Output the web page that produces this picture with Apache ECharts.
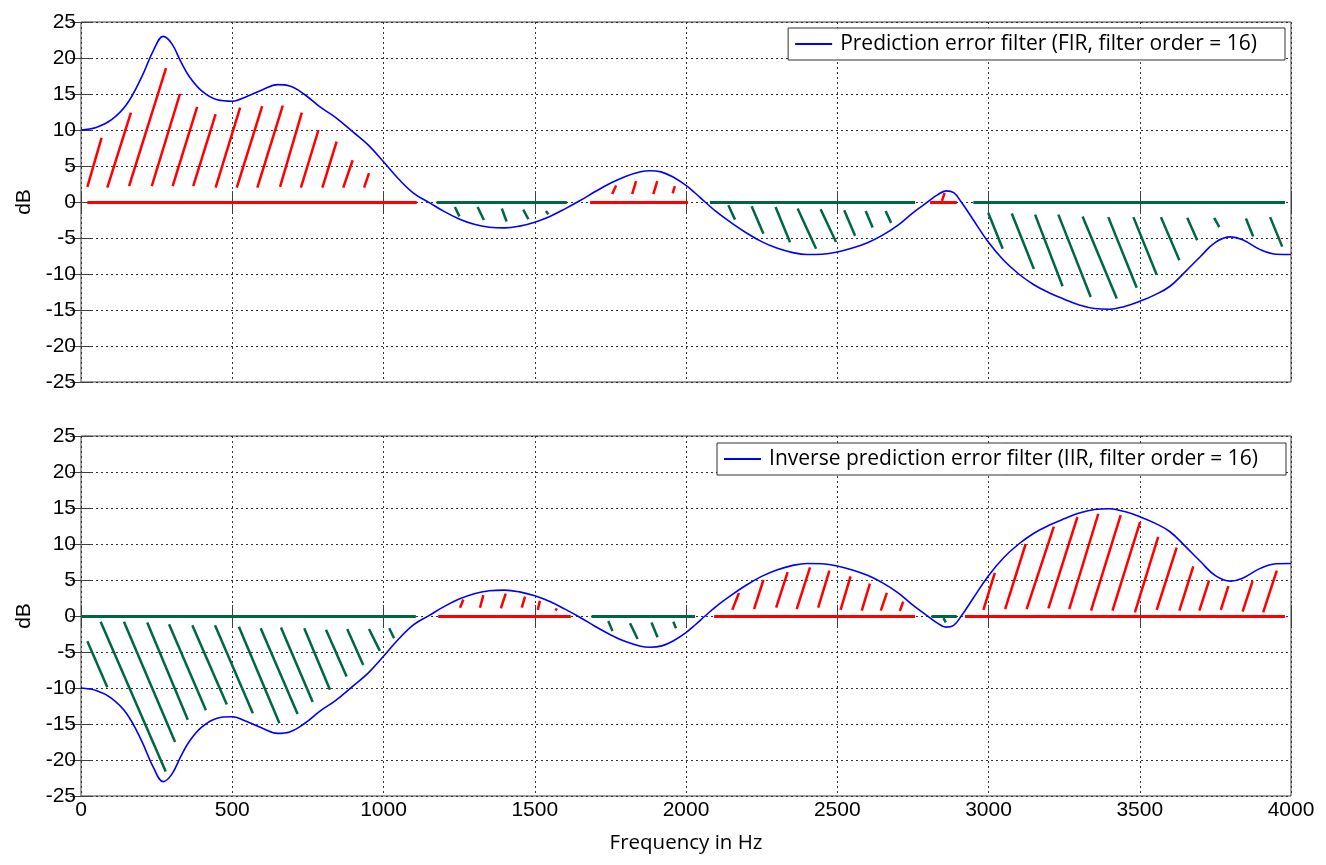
<!DOCTYPE html>
<html lang="en">
<head>
    <meta charset="UTF-8">
    <title>Prediction error filter vs inverse filter</title>
    <script src="https://cdn.jsdelivr.net/npm/echarts@6.0.0/dist/echarts.min.js"></script>
    <style>
        html, body { margin: 0; padding: 0; background: #fff; }
        #chart { width: 1326px; height: 865px; }
    </style>
</head>
<body>
    <div id="chart"></div>

    <script>
        // magnitude responses, [Hz, dB]
        const firCurve = [
            [0, 10.0], [50, 10.35], [100, 11.4], [150, 13.5], [200, 17.3], [240, 21.1], [272, 23.0],
            [300, 22.0], [330, 19.5], [360, 17.3], [400, 15.4], [450, 14.2], [500, 14.0], [550, 14.7],
            [600, 15.6], [650, 16.3], [690, 16.1], [740, 14.9], [790, 13.2], [840, 11.8], [900, 9.7],
            [950, 7.9], [1000, 5.6], [1050, 3.2], [1100, 1.2], [1150, -0.05], [1200, -1.3], [1250, -2.35],
            [1300, -3.1], [1350, -3.5], [1400, -3.6], [1450, -3.35], [1500, -2.8], [1550, -2.0],
            [1600, -0.95], [1650, 0.2], [1700, 1.45], [1750, 2.6], [1800, 3.55], [1850, 4.2], [1880, 4.35],
            [1920, 4.15], [1960, 3.4], [2000, 2.3], [2030, 1.25], [2063, 0], [2100, -1.35], [2150, -2.9],
            [2200, -4.3], [2250, -5.5], [2300, -6.4], [2350, -7.0], [2400, -7.3], [2450, -7.25],
            [2500, -6.95], [2550, -6.4], [2600, -5.65], [2650, -4.6], [2700, -3.25], [2750, -1.5],
            [2800, 0.05], [2830, 0.95], [2860, 1.55], [2885, 1.3], [2910, 0], [2950, -2.5], [3000, -5.6],
            [3050, -8.1], [3100, -10.0], [3150, -11.5], [3200, -12.6], [3250, -13.5], [3300, -14.3],
            [3350, -14.8], [3400, -14.9], [3450, -14.5], [3500, -13.8], [3550, -12.9], [3600, -11.7],
            [3650, -9.7], [3700, -7.6], [3750, -5.6], [3800, -4.85], [3840, -5.25], [3900, -6.65],
            [3950, -7.25], [4000, -7.3]
        ];

        const iirCurve = [
            [0, -10.0], [50, -10.35], [100, -11.4], [150, -13.5], [200, -17.3], [240, -21.1], [272, -23.0],
            [300, -22.0], [330, -19.5], [360, -17.3], [400, -15.4], [450, -14.2], [500, -14.0], [550, -14.7],
            [600, -15.6], [650, -16.3], [690, -16.1], [740, -14.9], [790, -13.2], [840, -11.8], [900, -9.7],
            [950, -7.9], [1000, -5.6], [1050, -3.2], [1100, -1.2], [1150, 0.05], [1200, 1.3], [1250, 2.35],
            [1300, 3.1], [1350, 3.5], [1400, 3.6], [1450, 3.35], [1500, 2.8], [1550, 2.0],
            [1600, 0.95], [1650, -0.2], [1700, -1.45], [1750, -2.6], [1800, -3.55], [1850, -4.2], [1880, -4.35],
            [1920, -4.15], [1960, -3.4], [2000, -2.3], [2030, -1.25], [2063, 0], [2100, 1.35], [2150, 2.9],
            [2200, 4.3], [2250, 5.5], [2300, 6.4], [2350, 7.0], [2400, 7.3], [2450, 7.25],
            [2500, 6.95], [2550, 6.4], [2600, 5.65], [2650, 4.6], [2700, 3.25], [2750, 1.5],
            [2800, -0.05], [2830, -0.95], [2860, -1.55], [2885, -1.3], [2910, 0], [2950, 2.5], [3000, 5.6],
            [3050, 8.1], [3100, 10.0], [3150, 11.5], [3200, 12.6], [3250, 13.5], [3300, 14.3],
            [3350, 14.8], [3400, 14.9], [3450, 14.5], [3500, 13.8], [3550, 12.9], [3600, 11.7],
            [3650, 9.7], [3700, 7.6], [3750, 5.6], [3800, 4.85], [3840, 5.25], [3900, 6.65],
            [3950, 7.25], [4000, 7.3]
        ];

        // hatch strokes, [x1, y1, x2, y2] in Hz / dB
        const firRedHatch = [
            [21, 2.1, 68, 8.9], [87, 2.0, 165, 12.4], [159, 2.2, 281, 18.6], [234, 2.2, 327, 15.0],
            [303, 2.2, 384, 13.2], [371, 2.2, 445, 12.2], [445, 2.0, 526, 13.1], [515, 2.0, 599, 13.3],
            [583, 2.0, 667, 13.4], [658, 2.1, 730, 12.4], [727, 2.0, 785, 10.0], [798, 2.0, 845, 8.4],
            [867, 2.0, 898, 5.8], [936, 2.0, 952, 4.0],
            [1756, 1.1, 1769, 2.3], [1822, 1.1, 1835, 2.9], [1892, 1.1, 1905, 2.9], [1956, 1.2, 1963, 2.2],
            [2846, 0.15, 2855, 1.25]
        ];
        const firGreenHatch = [
            [1236, -0.7, 1251, -2.0], [1311, -0.7, 1332, -2.5], [1391, -0.9, 1407, -2.7],
            [1462, -1.05, 1479, -2.4], [1537, -1.25, 1545, -1.7],
            [2140, -0.45, 2162, -2.45], [2217, -0.6, 2256, -4.4], [2296, -0.7, 2344, -5.6],
            [2369, -0.9, 2430, -6.5], [2445, -1.0, 2496, -5.55], [2523, -1.15, 2559, -4.7],
            [2594, -1.25, 2617, -3.55], [2660, -1.25, 2678, -2.9],
            [2999, -1.5, 3047, -6.5], [3077, -1.6, 3150, -9.3], [3154, -1.75, 3245, -11.7],
            [3231, -1.75, 3338, -13.2], [3311, -2.0, 3424, -13.4], [3396, -2.1, 3490, -11.9],
            [3479, -2.1, 3556, -10.1], [3570, -2.1, 3631, -8.1], [3657, -2.2, 3690, -5.3],
            [3746, -2.2, 3763, -3.5], [3851, -2.3, 3875, -4.8], [3931, -2.1, 3971, -6.2]
        ];
        const iirGreenHatch = [
            [21, -3.5, 87, -9.9], [65, -0.8, 280, -21.6], [142, -0.8, 311, -17.5], [219, -0.9, 353, -14.4],
            [291, -1.15, 413, -13.1], [368, -1.3, 482, -12.3], [443, -1.3, 568, -13.5], [522, -1.5, 656, -14.9],
            [594, -1.7, 716, -13.6], [661, -1.6, 766, -11.95], [738, -1.7, 823, -10.25], [810, -1.9, 878, -8.4],
            [880, -1.8, 933, -6.8], [952, -1.8, 988, -4.85], [1019, -1.7, 1035, -3.1],
            [1743, -0.7, 1757, -2.1], [1815, -1.0, 1840, -3.2], [1886, -0.9, 1906, -2.95], [1958, -0.8, 1967, -1.7],
            [2851, -0.3, 2859, -0.9]
        ];
        const iirRedHatch = [
            [1253, 1.15, 1264, 2.3], [1319, 1.15, 1330, 2.9], [1388, 1.05, 1404, 3.1], [1457, 1.15, 1468, 2.7],
            [1510, 0.85, 1517, 2.1], [1569, 0.75, 1573, 1.05],
            [2153, 0.85, 2175, 3.2], [2225, 0.95, 2256, 5.0], [2298, 1.15, 2336, 6.1], [2366, 0.95, 2410, 6.75],
            [2437, 1.15, 2474, 6.3], [2511, 0.85, 2544, 5.5], [2581, 0.75, 2608, 4.5], [2644, 0.75, 2664, 3.2],
            [2707, 0.7, 2718, 2.0],
            [2983, 0.85, 3021, 6.0], [3055, 0.95, 3123, 10.0], [3126, 0.95, 3216, 12.4], [3198, 1.05, 3294, 13.75],
            [3267, 0.95, 3363, 14.2], [3339, 0.75, 3437, 14.0], [3410, 0.75, 3501, 13.05], [3484, 0.5, 3561, 11.0],
            [3556, 0.85, 3622, 9.5], [3631, 0.75, 3677, 6.9], [3697, 0.75, 3729, 4.9], [3768, 0.85, 3793, 4.15],
            [3840, 0.6, 3873, 4.85], [3908, 0.5, 3953, 6.3]
        ];

        // 0 dB baseline pieces, [from Hz, to Hz]
        const firRedBase = [[21, 1110], [1683, 2007], [2807, 2895]];
        const firGreenBase = [[1176, 1606], [2079, 2757], [2950, 3980]];
        const iirGreenBase = [[0, 1107], [1688, 2030], [2812, 2895]];
        const iirRedBase = [[1181, 1619], [2093, 2757], [2922, 3980]];

        const firName = 'Prediction error filter (FIR, filter order = 16)';
        const iirName = 'Inverse prediction error filter (IIR, filter order = 16)';

        const RED = '#ff0000';
        const GREEN = '#006645';
        const BLUE = '#0000ff';
        const AXIS = '#404040';
        const TICK_FONT = 'Liberation Sans, Arial, sans-serif';
        const TEXT_FONT = 'Open Sans, sans-serif';

        function hatchSeries(segs, color, ax) {
            return {
                type: 'lines', coordinateSystem: 'cartesian2d',
                xAxisIndex: ax, yAxisIndex: ax, z: 2, silent: true,
                lineStyle: { color: color, width: 2.5, opacity: 1, curveness: 0 },
                data: segs.map(s => ({ coords: [[s[0], s[1]], [s[2], s[3]]] }))
            };
        }

        function baseSeries(parts, color, ax) {
            return {
                type: 'lines', coordinateSystem: 'cartesian2d',
                xAxisIndex: ax, yAxisIndex: ax, z: 2, silent: true,
                lineStyle: { color: color, width: 3, opacity: 1, curveness: 0 },
                data: parts.map(p => ({ coords: [[p[0], 0], [p[1], 0]] }))
            };
        }

        function curveSeries(name, data, ax) {
            return {
                name: name, type: 'line', xAxisIndex: ax, yAxisIndex: ax, z: 3,
                data: data, showSymbol: false, symbol: 'none',
                smooth: 0.4,
                lineStyle: { color: BLUE, width: 1.6 }, itemStyle: { color: BLUE }
            };
        }

        function mainX(gridIndex, withLabels) {
            return {
                type: 'value', gridIndex: gridIndex, min: 0, max: 4000, interval: 500,
                axisLine: { show: false },
                axisTick: { show: true, inside: true, length: 11, lineStyle: { color: AXIS } },
                axisLabel: {
                    show: withLabels, margin: 4, color: '#000', fontFamily: TICK_FONT, fontSize: 21,
                    showMinLabel: true, showMaxLabel: true,
                    formatter: v => String(v)
                },
                splitLine: { show: true, lineStyle: { color: '#333', type: [2, 3], width: 1 } }
            };
        }

        function sideX(gridIndex) {
            return {
                type: 'value', gridIndex: gridIndex, position: 'top', min: 0, max: 4000, interval: 500,
                axisLine: { show: false },
                axisTick: { show: true, inside: true, length: 11, lineStyle: { color: AXIS } },
                axisLabel: { show: false }, splitLine: { show: false }
            };
        }

        function mainY(gridIndex) {
            return {
                type: 'value', gridIndex: gridIndex, min: -25, max: 25, interval: 5,
                name: 'dB', nameLocation: 'middle', nameRotate: 90, nameGap: 46,
                nameTextStyle: { color: '#000', fontFamily: TICK_FONT, fontSize: 21 },
                axisLine: { show: false },
                axisTick: { show: true, inside: true, length: 11, lineStyle: { color: AXIS } },
                axisLabel: {
                    margin: 5, color: '#000', fontFamily: TICK_FONT, fontSize: 21,
                    showMinLabel: true, showMaxLabel: true,
                    formatter: v => String(v)
                },
                splitLine: { show: true, lineStyle: { color: '#333', type: [2, 3], width: 1 } }
            };
        }

        function sideY(gridIndex) {
            return {
                type: 'value', gridIndex: gridIndex, position: 'right', min: -25, max: 25, interval: 5,
                axisLine: { show: false },
                axisTick: { show: true, inside: true, length: 11, lineStyle: { color: AXIS } },
                axisLabel: { show: false }, splitLine: { show: false }
            };
        }

        function legendBox(name, right, top) {
            return {
                data: [name], right: right, top: top, orient: 'horizontal',
                icon: 'rect', itemWidth: 37, itemHeight: 2,
                padding: [3, 28, 3, 7],
                backgroundColor: '#fff', borderColor: '#333', borderWidth: 1, borderRadius: 0,
                selectedMode: false,
                textStyle: {
                    color: '#000', fontFamily: TEXT_FONT, fontSize: 21, lineHeight: 26,
                    padding: [0, 0, 0, 3]
                }
            };
        }

        const chart = echarts.init(document.getElementById('chart'), null, { renderer: 'canvas' });

        const xMain0 = mainX(0, false);
        const xMain1 = mainX(1, true);
        xMain1.name = 'Frequency in Hz';
        xMain1.nameLocation = 'middle';
        xMain1.nameGap = 37;
        xMain1.nameTextStyle = { color: '#000', fontFamily: TEXT_FONT, fontSize: 20.5 };

        const option = {
            animation: false,
            backgroundColor: '#fff',
            grid: [
                { left: 81, right: 35, top: 22, height: 360, show: true, borderColor: AXIS, borderWidth: 1, outerBoundsMode: 'none' },
                { left: 81, right: 35, top: 436, height: 360, show: true, borderColor: AXIS, borderWidth: 1, outerBoundsMode: 'none' }
            ],
            // 0,1: upper plot (bottom/top); 2,3: lower plot (bottom/top)
            xAxis: [xMain0, sideX(0), xMain1, sideX(1)],
            yAxis: [mainY(0), sideY(0), mainY(1), sideY(1)],
            legend: [
                legendBox(firName, 41, 28),
                legendBox(iirName, 40, 443)
            ],
            series: [
                hatchSeries(firRedHatch, RED, 0),
                hatchSeries(firGreenHatch, GREEN, 0),
                baseSeries(firRedBase, RED, 0),
                baseSeries(firGreenBase, GREEN, 0),
                curveSeries(firName, firCurve, 0),
                hatchSeries(iirRedHatch, RED, 2),
                hatchSeries(iirGreenHatch, GREEN, 2),
                baseSeries(iirRedBase, RED, 2),
                baseSeries(iirGreenBase, GREEN, 2),
                curveSeries(iirName, iirCurve, 2)
            ]
        };

        chart.setOption(option);
    </script>
</body>
</html>
